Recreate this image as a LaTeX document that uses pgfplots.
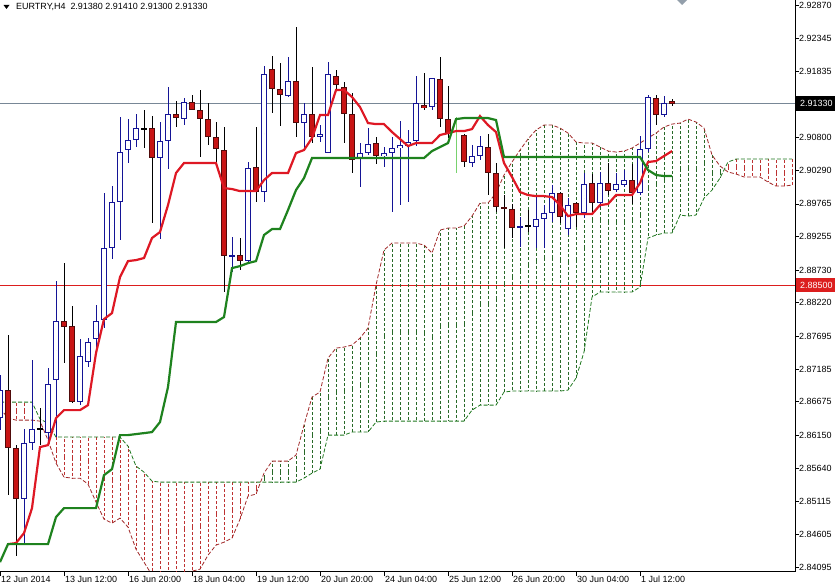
\documentclass[border=0pt]{standalone}
\usepackage{fontspec}
\setmainfont{Liberation Sans}
\usepackage{pgfplots}
\usepackage{pgfplotstable}
\pgfplotsset{compat=1.18}

\definecolor{bull}{RGB}{20,20,150}
\definecolor{bearfill}{RGB}{200,20,20}
\definecolor{bearedge}{RGB}{80,10,10}
\definecolor{tenkan}{RGB}{222,24,36}
\definecolor{kijun}{RGB}{30,130,30}
\definecolor{hatchred}{RGB}{190,50,50}
\definecolor{hatchgreen}{RGB}{40,105,40}
\definecolor{spanred}{RGB}{160,40,40}
\definecolor{spangreen}{RGB}{30,120,30}
\definecolor{bidline}{RGB}{120,135,150}
\definecolor{levelred}{RGB}{220,30,30}
\definecolor{chikou}{RGB}{120,210,110}

\newcommand\mtfont{\fontsize{9}{11}\selectfont}

\pgfplotsset{
  bars/.style={only marks, mark size=0pt, mark options={draw=none, fill=none}, forget plot,
    error bars/y dir=both, error bars/y explicit,
    error bars/error mark=none,
    error bars/error bar style={#1}},
}

% EURTRY H4 candles: index open high low close
\pgfplotstableread{
k o h l c
0 2.86421 2.87093 2.86234 2.86859
1 2.86859 2.87717 2.85219 2.85953
2 2.85953 2.86000 2.84266 2.85156
3 2.85156 2.86249 2.84438 2.86031
4 2.86031 2.87327 2.85922 2.86249
5 2.86249 2.86577 2.86000 2.86265
6 2.86187 2.87202 2.86031 2.86953
7 2.87015 2.88560 2.86125 2.87936
8 2.87936 2.88841 2.87280 2.87843
9 2.87858 2.88170 2.86655 2.86671
10 2.86671 2.87654 2.86624 2.87389
11 2.87296 2.87670 2.87218 2.87608
12 2.87654 2.88186 2.87530 2.87936
13 2.87952 2.89934 2.87827 2.89076
14 2.89076 2.90043 2.88904 2.89794
15 2.89794 2.91121 2.89201 2.90575
16 2.90606 2.91089 2.90403 2.90762
17 2.90762 2.91168 2.90653 2.90949
18 2.90933 2.91230 2.90637 2.90933
19 2.90949 2.91136 2.89466 2.90481
20 2.90481 2.91043 2.89216 2.90746
21 2.90746 2.91590 2.90309 2.91168
22 2.91168 2.91371 2.90965 2.91105
23 2.91089 2.91418 2.90996 2.91356
24 2.91356 2.91465 2.91230 2.91230
25 2.91230 2.91543 2.90497 2.91089
26 2.91089 2.91340 2.90684 2.90809
27 2.90809 2.91043 2.90419 2.90621
28 2.90606 2.90965 2.88389 2.88951
29 2.88936 2.89248 2.88701 2.88967
30 2.88967 2.89232 2.88732 2.88872
31 2.88872 2.90419 2.88841 2.90325
32 2.90341 2.90965 2.89794 2.89950
33 2.89950 2.91917 2.89794 2.91793
34 2.91870 2.92073 2.91183 2.91558
35 2.91558 2.91964 2.90980 2.91465
36 2.91449 2.92058 2.91434 2.91683
37 2.91683 2.92527 2.90809 2.91027
38 2.91027 2.91340 2.90637 2.91168
39 2.91168 2.91902 2.90715 2.90809
40 2.90809 2.90996 2.90731 2.90856
41 2.90559 2.91980 2.90559 2.91793
42 2.91761 2.91855 2.91543 2.91621
43 2.91590 2.91668 2.90715 2.91168
44 2.91168 2.91496 2.90247 2.90450
45 2.90465 2.90715 2.90028 2.90559
46 2.90559 2.90949 2.90528 2.90700
47 2.90715 2.90809 2.90388 2.90512
48 2.90512 2.90653 2.90341 2.90559
49 2.90559 2.90809 2.89638 2.90637
50 2.90637 2.91058 2.89747 2.90684
51 2.90668 2.90918 2.89794 2.90731
52 2.90746 2.91761 2.90668 2.91340
53 2.91309 2.91808 2.91230 2.91262
54 2.91278 2.91730 2.91230 2.91730
55 2.91714 2.92058 2.90965 2.91089
56 2.91089 2.91605 2.90793 2.90871
58 2.90840 2.90856 2.90341 2.90419
59 2.90403 2.90684 2.90341 2.90512
60 2.90512 2.90824 2.90450 2.90668
61 2.90653 2.90856 2.89903 2.90247
62 2.90247 2.90403 2.89638 2.89716
63 2.89716 2.89903 2.89076 2.89684
64 2.89684 2.89763 2.89232 2.89388
65 2.89388 2.89560 2.89092 2.89419
66 2.89419 2.89669 2.89326 2.89419
67 2.89404 2.89903 2.89076 2.89528
68 2.89528 2.89747 2.89076 2.89622
69 2.89622 2.90059 2.89482 2.89934
70 2.89934 2.89950 2.89466 2.89560
71 2.89372 2.89856 2.89279 2.89747
72 2.89778 2.89794 2.89404 2.89622
73 2.89622 2.90247 2.89544 2.90075
74 2.90090 2.90232 2.89638 2.89778
75 2.89778 2.90263 2.89716 2.90090
76 2.90090 2.90403 2.89903 2.89965
77 2.89981 2.90247 2.89950 2.90075
78 2.90059 2.90294 2.90028 2.90137
79 2.90137 2.90388 2.89763 2.89934
80 2.89934 2.90824 2.89903 2.90621
81 2.90621 2.91465 2.90575 2.91434
82 2.91418 2.91465 2.90996 2.91152
83 2.91152 2.91449 2.91121 2.91340
84 2.91380 2.91410 2.91300 2.91330
}\candles

% Ichimoku cloud: senkou span drawn red (r) and green (g)
\pgfplotstableread{
k r g
0 2.86577 2.86671
1 2.86421 2.86671
2 2.86390 2.86671
3 2.86390 2.86671
4 2.86390 2.86671
5 2.86374 2.86406
6 2.86078 2.86343
7 2.85719 2.86125
8 2.85500 2.86125
9 2.85484 2.86125
10 2.85484 2.86125
11 2.85391 2.86125
12 2.85110 2.86125
13 2.84844 2.86125
14 2.84782 2.86125
15 2.84860 2.86125
16 2.84720 2.85984
17 2.84375 2.85672
18 2.84173 2.85578
19 2.83970 2.85437
20 2.83892 2.85422
21 2.83861 2.85422
22 2.83892 2.85422
23 2.83954 2.85422
24 2.84032 2.85422
25 2.84063 2.85422
26 2.84282 2.85422
27 2.84438 2.85422
28 2.84485 2.85422
29 2.84548 2.85422
30 2.84844 2.85422
31 2.85203 2.85422
32 2.85235 2.85422
33 2.85562 2.85422
34 2.85750 2.85422
35 2.85750 2.85422
36 2.85750 2.85422
37 2.85844 2.85422
38 2.86312 2.85484
39 2.86750 2.85562
40 2.86828 2.85625
41 2.87358 2.86156
42 2.87514 2.86156
43 2.87530 2.86156
44 2.87561 2.86203
45 2.87670 2.86203
46 2.87827 2.86203
47 2.88498 2.86359
48 2.89045 2.86374
49 2.89154 2.86374
50 2.89154 2.86374
51 2.89154 2.86374
52 2.89154 2.86374
53 2.89123 2.86374
54 2.88998 2.86374
55 2.89357 2.86374
56 2.89388 2.86374
57 2.89388 2.86374
58 2.89419 2.86374
59 2.89575 2.86546
60 2.89778 2.86624
61 2.89778 2.86624
62 2.89934 2.86624
63 2.90216 2.86828
64 2.90419 2.86843
65 2.90606 2.86843
66 2.90778 2.86843
67 2.90918 2.86843
68 2.90996 2.86843
69 2.90996 2.86843
70 2.90949 2.86843
71 2.90871 2.86859
72 2.90731 2.87046
73 2.90715 2.87452
74 2.90715 2.88311
75 2.90653 2.88389
76 2.90590 2.88389
77 2.90575 2.88389
78 2.90590 2.88389
79 2.90637 2.88389
80 2.90715 2.88467
81 2.90793 2.89232
82 2.90871 2.89279
83 2.90965 2.89310
84 2.91011 2.89310
85 2.91027 2.89591
86 2.91089 2.89575
87 2.91043 2.89591
88 2.90949 2.89856
89 2.90528 2.89981
90 2.90356 2.90169
91 2.90263 2.90419
92 2.90232 2.90465
93 2.90185 2.90465
94 2.90185 2.90465
95 2.90185 2.90465
96 2.90106 2.90465
97 2.90043 2.90465
98 2.90043 2.90465
99 2.90059 2.90465
}\cloud

% tenkan-sen (t) and kijun-sen (kj)
\pgfplotstableread{
k t kj
0 nan 2.84173
1 2.84454 2.84454
2 2.84470 2.84454
3 2.84626 2.84454
4 2.85016 2.84454
5 2.85969 2.84454
6 2.86000 2.84454
7 2.86421 2.84876
8 2.86546 2.85016
9 2.86546 2.85016
10 2.86546 2.85016
11 2.86624 2.85016
12 2.87436 2.85016
13 2.87967 2.85531
14 2.88061 2.85625
15 2.88623 2.86156
16 2.88872 2.86156
17 2.88888 2.86172
18 2.88920 2.86187
19 2.89232 2.86203
20 2.89326 2.86359
21 2.89747 2.86906
22 2.90247 2.87921
23 2.90403 2.87921
24 2.90403 2.87921
25 2.90403 2.87921
26 2.90403 2.87921
27 2.90403 2.87921
28 2.90012 2.87999
29 2.89997 2.88763
30 2.89965 2.88794
31 2.89965 2.88841
32 2.89965 2.88872
33 2.90137 2.89279
34 2.90247 2.89372
35 2.90247 2.89372
36 2.90247 2.89669
37 2.90559 2.89981
38 2.90606 2.90169
39 2.90793 2.90481
40 2.91152 2.90481
41 2.91152 2.90481
42 2.91543 2.90481
43 2.91543 2.90481
44 2.91434 2.90481
45 2.91278 2.90481
46 2.91027 2.90481
47 2.91011 2.90481
48 2.91011 2.90481
49 2.90887 2.90481
50 2.90778 2.90481
51 2.90668 2.90481
52 2.90715 2.90481
53 2.90715 2.90481
54 2.90715 2.90590
55 2.90840 2.90653
56 2.90871 2.90715
57 2.90902 2.91089
58 2.90902 2.91105
59 2.90933 2.91105
60 2.91136 2.91105
61 2.90996 2.91105
62 2.90887 2.91074
63 2.90403 2.90497
64 2.90185 2.90497
65 2.89950 2.90497
66 2.89903 2.90497
67 2.89887 2.90497
68 2.89887 2.90497
69 2.89872 2.90497
70 2.89747 2.90497
71 2.89575 2.90497
72 2.89606 2.90497
73 2.89606 2.90497
74 2.89606 2.90497
75 2.89747 2.90497
76 2.89763 2.90497
77 2.89903 2.90497
78 2.89903 2.90497
79 2.89903 2.90497
80 2.90090 2.90497
81 2.90419 2.90294
82 2.90434 2.90216
83 2.90512 2.90200
84 2.90590 2.90200
}\lines

\begin{document}
\begin{tikzpicture}
\useasboundingbox (0,-14bp) rectangle (835bp,572bp);
\begin{axis}[
    at={(0,0)}, anchor=south west,
    scale only axis, width=795bp, height=572bp,
    xmin=0, xmax=99.375,
    ymin=2.84019, ymax=2.92948,
    axis x line*=bottom, axis y line*=right,
    axis line style={black, line width=1bp, -},
    tick align=outside, major tick length=4bp,
    tick style={black, line width=0.8bp},
    unbounded coords=jump,
    xtick={0,8,...,80},
    xticklabels={12 Jun 2014, 13 Jun 12:00, 16 Jun 20:00, 18 Jun 04:00,
      19 Jun 12:00, 20 Jun 20:00, 24 Jun 04:00, 25 Jun 12:00,
      26 Jun 20:00, 30 Jun 04:00, 1 Jul 12:00},
    xticklabel style={font=\mtfont, anchor=north west, inner sep=0pt, xshift=1bp},
    ytick={2.84095,2.84605,2.85115,2.85640,2.86150,2.86675,2.87185,2.87695,
      2.88220,2.88730,2.89255,2.89765,2.90290,2.90800,2.91835,2.92345,2.92870},
    yticklabels={2.84095,2.84605,2.85115,2.85640,2.86150,2.86675,2.87185,2.87695,
      2.88220,2.88730,2.89255,2.89765,2.90290,2.90800,2.91835,2.92345,2.92870},
    yticklabel style={font=\mtfont, anchor=west, inner sep=0pt},
]
% price levels
\addplot[forget plot, levelred, line width=0.8bp] coordinates {(0,2.88500) (99.375,2.88500)};
\addplot[forget plot, bidline, line width=0.8bp] coordinates {(0,2.91330) (99.375,2.91330)};

% cloud hatch
\addplot[restrict expr to domain={\thisrow{r}-\thisrow{g}}{0:1},
  bars={color=hatchgreen, line width=0.8bp, dash pattern=on 3bp off 2bp}]
  table[x=k, y expr={(\thisrow{r}+\thisrow{g})/2}, y error expr={abs(\thisrow{r}-\thisrow{g})/2}] {\cloud};
\addplot[restrict expr to domain={\thisrow{g}-\thisrow{r}}{0:1},
  bars={color=hatchred, line width=0.8bp, dash pattern=on 3bp off 2bp}]
  table[x=k, y expr={(\thisrow{r}+\thisrow{g})/2}, y error expr={abs(\thisrow{r}-\thisrow{g})/2}] {\cloud};
% cloud edges
\addplot[forget plot, spanred, line width=0.8bp, dash pattern=on 4bp off 2bp] table[x=k, y=r] {\cloud};
\addplot[forget plot, spangreen, line width=0.8bp, dash pattern=on 4bp off 2bp] table[x=k, y=g] {\cloud};

% wicks
\addplot[restrict expr to domain={\thisrow{c}-\thisrow{o}}{0.0002:1}, bars={color=bull, line width=1bp}]
  table[x=k, y expr={(\thisrow{h}+\thisrow{l})/2}, y error expr={(\thisrow{h}-\thisrow{l})/2}] {\candles};
\addplot[restrict expr to domain={\thisrow{o}-\thisrow{c}}{-0.0002:1}, bars={color=black, line width=1bp}]
  table[x=k, y expr={(\thisrow{h}+\thisrow{l})/2}, y error expr={(\thisrow{h}-\thisrow{l})/2}] {\candles};
% bull bodies
\addplot[restrict expr to domain={\thisrow{c}-\thisrow{o}}{0.0002:1}, bars={color=bull, line width=6bp}]
  table[x=k, y expr={(\thisrow{o}+\thisrow{c})/2}, y error expr={abs(\thisrow{c}-\thisrow{o})/2}] {\candles};
\addplot[restrict expr to domain={\thisrow{c}-\thisrow{o}}{0.0002:1}, bars={color=white, line width=4bp}]
  table[x=k, y expr={(\thisrow{o}+\thisrow{c})/2}, y error expr={max(abs(\thisrow{c}-\thisrow{o})/2-0.00016,0)}] {\candles};
% bear bodies
\addplot[restrict expr to domain={\thisrow{o}-\thisrow{c}}{0.0002:1}, bars={color=bearedge, line width=6bp}]
  table[x=k, y expr={(\thisrow{o}+\thisrow{c})/2}, y error expr={abs(\thisrow{c}-\thisrow{o})/2}] {\candles};
\addplot[restrict expr to domain={\thisrow{o}-\thisrow{c}}{0.0002:1}, bars={color=bearfill, line width=4bp}]
  table[x=k, y expr={(\thisrow{o}+\thisrow{c})/2}, y error expr={max(abs(\thisrow{c}-\thisrow{o})/2-0.00016,0)}] {\candles};
% doji
\addplot[restrict expr to domain={abs(\thisrow{c}-\thisrow{o})}{0:0.00019}, bars={color=black, line width=6bp}]
  table[x=k, y expr={(\thisrow{o}+\thisrow{c})/2}, y error expr={0.00012}] {\candles};

% chikou remnant
\addplot[forget plot, chikou, line width=1bp] coordinates {(57,2.91121) (57,2.90247)};
% tenkan / kijun
\addplot[forget plot, tenkan, line width=2.2bp] table[x=k, y=t] {\lines};
\addplot[forget plot, kijun, line width=2.2bp] table[x=k, y=kj] {\lines};
\end{axis}

% header
\fill (3.5bp,567bp) -- (9.5bp,567bp) -- (6.5bp,563bp) -- cycle;
\node[anchor=west, inner sep=0pt, font=\mtfont] at (16bp,565bp)
  {EURTRY,H4\ \ 2.91380 2.91410 2.91300 2.91330};
% shift marker
\fill[bidline!80] (677bp,572bp) -- (682bp,567bp) -- (687bp,572bp) -- (682bp,577bp) -- cycle;
% price labels
\node[fill=black, text=white, anchor=west, inner xsep=4bp, minimum height=15bp, font=\mtfont]
  at (796bp,468.5bp) {2.91330};
\node[fill=levelred, text=white, anchor=west, inner xsep=4bp, minimum height=14bp, font=\mtfont]
  at (796bp,287bp) {2.88500};
\end{tikzpicture}
\end{document}
